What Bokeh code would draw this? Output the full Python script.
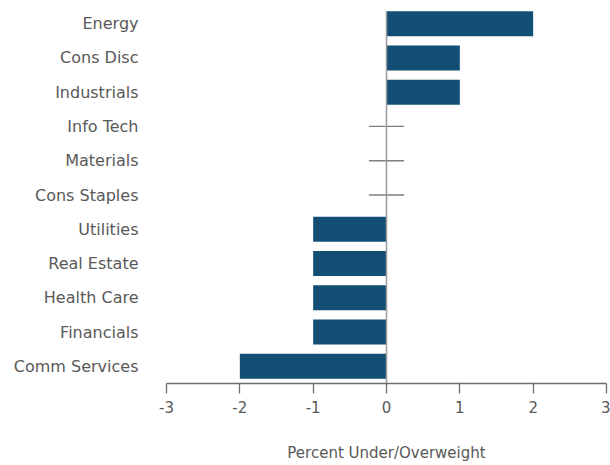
from bokeh.plotting import figure
from bokeh.models import FactorRange, Range1d, FixedTicker, ColumnDataSource
from bokeh.embed import file_html
from bokeh.resources import INLINE

sectors = ["Energy", "Cons Disc", "Industrials", "Info Tech", "Materials", "Cons Staples",
           "Utilities", "Real Estate", "Health Care", "Financials", "Comm Services"]
weights = [2, 1, 1, 0, 0, 0, -1, -1, -1, -1, -2]
x_ticks = [-3, -2, -1, 0, 1, 2, 3]

FONT = "DejaVu Sans"
TEXT = "#595959"
BAR = "#134f75"

factors = sectors[::-1]
p = figure(width=610, height=465,
           y_range=FactorRange(factors=factors, range_padding=0),
           x_range=Range1d(x_ticks[0], x_ticks[-1]),
           output_backend="svg", toolbar_location=None,
           min_border_left=166, min_border_right=4, min_border_top=6, min_border_bottom=82)
p.outline_line_color = None
p.grid.visible = False
p.background_fill_color = "white"

nz = [(s, w) for s, w in zip(sectors, weights) if w != 0]
src = ColumnDataSource(dict(y=[s for s, w in nz], w=[w for s, w in nz]))
p.hbar(y="y", left=0, right="w", height=0.73, source=src, fill_color=BAR, line_color=None)

zs = [s for s, w in zip(sectors, weights) if w == 0]
zsrc = ColumnDataSource(dict(y=zs, x0=[-0.24] * len(zs), x1=[0.24] * len(zs)))
p.segment(x0="x0", x1="x1", y0="y", y1="y", source=zsrc, line_color="#7f7f7f", line_width=1.3)

p.segment(x0=[0], x1=[0], y0=[(sectors[-1], -0.5)], y1=[(sectors[0], 0.365)],
          line_color="#9a9a9a", line_width=1.5)

xa = p.xaxis[0]
xa.ticker = FixedTicker(ticks=x_ticks)
xa.major_label_overrides = {t: str(t) for t in x_ticks}
xa.minor_tick_line_color = None
xa.major_tick_in = 0
xa.major_tick_out = 10
xa.axis_line_color = "#6e6e6e"
xa.major_tick_line_color = "#6e6e6e"
xa.axis_line_width = 1.3
xa.major_tick_line_width = 1.3
xa.major_label_text_font = FONT
xa.major_label_text_font_size = "15px"
xa.major_label_text_color = TEXT
xa.major_label_standoff = 7
xa.axis_label = "Percent Under/Overweight"
xa.axis_label_text_font = FONT
xa.axis_label_text_font_size = "15px"
xa.axis_label_text_font_style = "normal"
xa.axis_label_text_color = TEXT
xa.axis_label_standoff = 28

ya = p.yaxis[0]
ya.axis_line_color = None
ya.major_tick_line_color = None
ya.minor_tick_line_color = None
ya.major_tick_out = 0
ya.major_tick_in = 0
ya.major_label_standoff = 28
ya.major_label_text_font = FONT
ya.major_label_text_font_size = "16px"
ya.major_label_text_color = TEXT

open("out.html", "w").write(file_html(p, INLINE))
